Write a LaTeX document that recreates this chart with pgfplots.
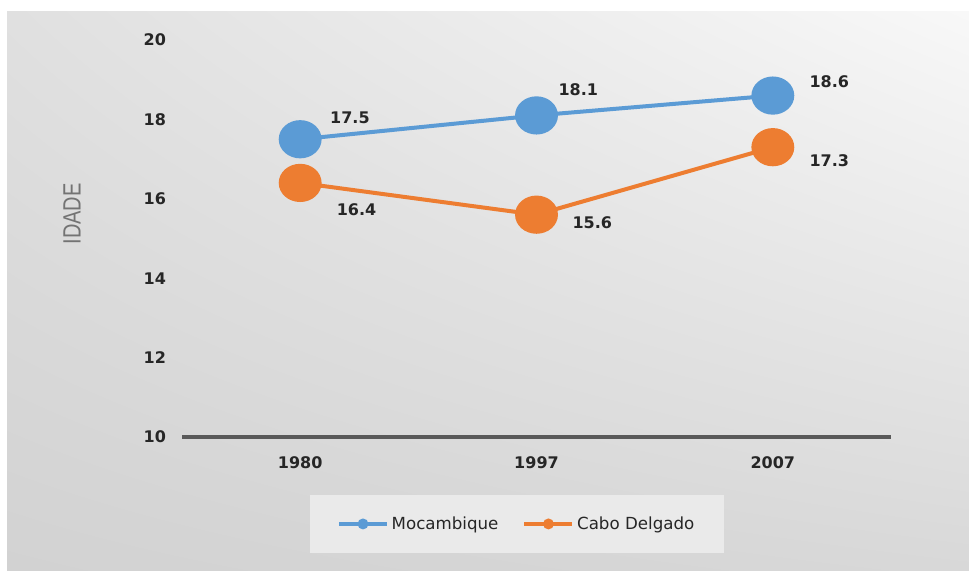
\documentclass[border=0pt]{standalone}
\usepackage{fontspec}
\setmainfont{DejaVu Sans}
\newfontfamily\labfont{Liberation Sans}
\usepackage{graphicx}
\usepackage{pgfplots}
\usepackage{pgfplotstable}
\usetikzlibrary{shadings}
\pgfplotsset{compat=1.18}
\definecolor{mozblue}{HTML}{5B9BD5}
\definecolor{cdorange}{HTML}{ED7D31}
\definecolor{axgray}{HTML}{595959}
\definecolor{txt}{HTML}{262626}
\definecolor{legfill}{HTML}{EAEAEA}
\definecolor{bgUL}{HTML}{E0E0E0}
\definecolor{bgUR}{HTML}{F8F8F8}
\definecolor{bgLL}{HTML}{D2D2D2}
\definecolor{bgLR}{HTML}{D8D8D8}

\pgfplotstableread{
x y dx dy
0 17.5 21 15.75
1 18.1 15 19.5
2 18.6 26 10.5
}\moz
\pgfplotstableread{
x y dx dy
0 16.4 26 -20
1 15.6 25.5 -6
2 17.3 26 -10
}\cabo

\begin{document}
\begin{tikzpicture}
\useasboundingbox (0,0) rectangle (726.75pt,430.5pt);
\shade[upper left=bgUL, upper right=bgUR, lower left=bgLL, lower right=bgLR]
  (5.25pt,3pt) rectangle (726.75pt,421.5pt);
\begin{axis}[
  at={(136.5pt,102.75pt)}, anchor=south west,
  scale only axis, width=531.75pt, height=297.75pt,
  clip=false,
  xmin=-0.5, xmax=2.5, ymin=10, ymax=20,
  xtick={0,1,2}, xticklabels={1980,1997,2007},
  ytick={10,12,14,16,18,20},
  axis x line*=bottom, axis y line*=left,
  y axis line style={draw=none},
  x axis line style={draw=axgray, line width=3pt, -},
  major tick length=0pt,
  tick style={draw=none},
  /pgf/number format/assume math mode=true,
  tick label style={font=\fontsize{12}{14}\selectfont\bfseries, text=txt},
  yticklabel style={anchor=east, xshift=-8.5pt},
  xticklabel style={anchor=north, yshift=-11pt},
  ylabel={\scalebox{1}[1.25]{\labfont IDADE}},
  every axis y label/.style={at={(axis description cs:-0.155,0.562)}, rotate=90, anchor=center,
     font=\fontsize{15}{17}\selectfont, text=black!55},
  legend columns=2,
  legend style={at={(0.4725,-0.219)}, anchor=center, draw=none, fill=legfill,
     font=\fontsize{12.5}{14}\selectfont, text=txt,
     inner xsep=20.5pt, inner ysep=14pt,
     /tikz/every even column/.append style={column sep=16pt}},
  legend image code/.code={
     \draw[#1, mark=none] (0pt,0pt) -- (36pt,0pt);
     \fill[#1] (18pt,0pt) circle (2.5pt);
  },
  nodes near coords={\pgfmathprintnumber[fixed,precision=1,fixed zerofill]{\pgfplotspointmeta}},
  visualization depends on={\thisrow{dx} \as \dx},
  visualization depends on={\thisrow{dy} \as \dy},
  every node near coord/.append style={anchor=west, inner sep=0pt,
     xshift=\dx pt, yshift=\dy pt,
     font=\fontsize{12}{14}\selectfont\bfseries, text=txt},
]
\addplot[mozblue, line width=3pt, mark=*, mark size=13.5pt,
  mark options={xscale=1.08, yscale=0.95, solid}] table[x=x, y=y] {\moz};
\addlegendentry{Mocambique}
\addplot[cdorange, line width=3pt, mark=*, mark size=13.5pt,
  mark options={xscale=1.08, yscale=0.95, solid}] table[x=x, y=y] {\cabo};
\addlegendentry{Cabo Delgado}
\end{axis}
\end{tikzpicture}
\end{document}
